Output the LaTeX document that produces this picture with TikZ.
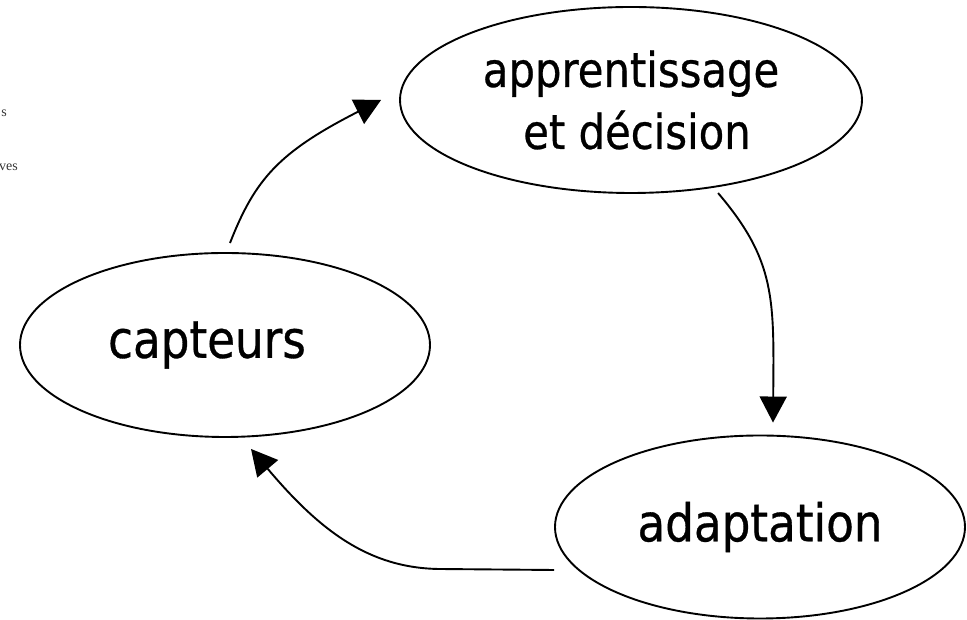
\documentclass[tikz,border=0pt]{standalone}
\usepackage{fontspec}
\newfontfamily\bubblefont[FakeStretch=0.87,FakeBold=0.6]{DejaVu Sans}
\newfontfamily\pagefont{Liberation Serif}
\usetikzlibrary{shapes.geometric,arrows.meta}
\begin{document}
\begin{tikzpicture}[x=1pt,y=1pt,
        bubble/.style={draw, ellipse, line width=1.9pt, inner sep=0pt, align=center},
        flow/.style={-{Triangle[length=26pt,width=27pt]}, line width=1.9pt},
        scrap/.style={font=\pagefont\fontsize{14}{16}\selectfont, text=black!80, inner sep=0pt}]
        \useasboundingbox (0,0) rectangle (967,620);

        \node[scrap, anchor=base east] (scrapA) at (7,503) {s};
        \node[scrap, anchor=base east] (scrapB) at (18,449) {ves};

        \node[bubble, minimum width=462, minimum height=186,
              font=\bubblefont\fontsize{48}{62}\selectfont] (learn) at (631,520) {apprentissage\\\hspace*{12pt}et décision};
        \node[bubble, minimum width=410, minimum height=184,
              font=\bubblefont\fontsize{52}{62}\selectfont] (sense) at (225,275) {capteurs\hspace*{36pt}};
        \node[bubble, minimum width=410, minimum height=183,
              font=\bubblefont\fontsize{52}{62}\selectfont] (act) at (760,93) {adaptation};

        \draw[flow] ([shift={(5,9)}]sense.north) .. controls +(25,64) and +(-102,-52) .. ([xshift=-18]learn.west);
        \draw[flow] ([yshift=-6]learn.315) .. controls +(58,-68) and +(1,123) .. ([shift={(13,12)}]act.north);
        \draw[flow] ([yshift=-43]act.west) -- +(-115,1) .. controls +(-70,1) and +(69,-82) .. ([shift={(26,-11)}]sense.south);

    \end{tikzpicture}
\end{document}
